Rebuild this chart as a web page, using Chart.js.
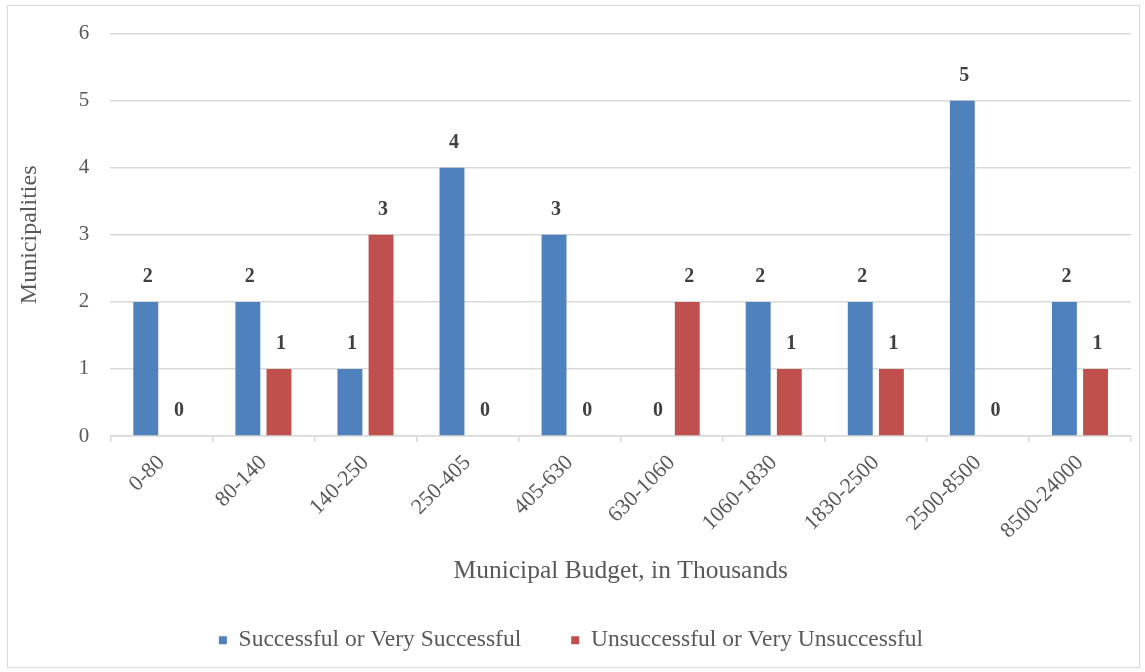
<!DOCTYPE html>
<html>
<head>
<meta charset="utf-8">
<script src="https://cdn.jsdelivr.net/npm/chart.js@4.4.1/dist/chart.umd.min.js"></script>
<style>
  html, body { margin: 0; padding: 0; background: #fff; }
  #frame { position: absolute; left: 7px; top: 5px; width: 1131px; height: 661px; border: 1px solid #d9d9d9; }
  #wrap { position: absolute; left: 0; top: 0; width: 1145px; height: 672px; }
</style>
</head>
<body>
<div id="frame"></div>
<div id="wrap"><canvas id="myChart" width="1145" height="672"></canvas></div>
<script>
const budgetRanges = ['0-80', '80-140', '140-250', '250-405', '405-630', '630-1060', '1060-1830', '1830-2500', '2500-8500', '8500-24000'];
const successful = [2, 2, 1, 4, 3, 0, 2, 2, 5, 2];
const unsuccessful = [0, 1, 3, 0, 0, 2, 1, 1, 0, 1];
const yTicks = [0, 1, 2, 3, 4, 5, 6];

const serif = '"Liberation Serif", "DejaVu Serif", serif';

// value labels sitting above each bar
const barLabels = {
  id: 'barLabels',
  afterDatasetsDraw(chart) {
    const ctx = chart.ctx;
    ctx.save();
    ctx.font = 'bold 20px ' + serif;
    ctx.fillStyle = '#404040';
    ctx.textAlign = 'center';
    ctx.textBaseline = 'middle';
    chart.data.datasets.forEach((ds, i) => {
      chart.getDatasetMeta(i).data.forEach((bar, j) => {
        ctx.fillText(ds.data[j], bar.x + 2, bar.y - 25);
      });
    });
    ctx.restore();
  }
};

const ctx = document.getElementById('myChart');
new Chart(ctx, {
  type: 'bar',
  data: {
    labels: budgetRanges,
    datasets: [{
      label: 'Successful or Very Successful',
      data: successful,
      backgroundColor: '#4F81BD',
      categoryPercentage: 0.61,
      barPercentage: 0.8
    }, {
      label: 'Unsuccessful or Very Unsuccessful',
      data: unsuccessful,
      backgroundColor: '#C0504D',
      categoryPercentage: 0.61,
      barPercentage: 0.8
    }]
  },
  options: {
    responsive: false,
    animation: false,
    layout: { padding: { top: 24, right: 14, left: 11, bottom: 10 } },
    plugins: {
      tooltip: { enabled: false },
      legend: {
        position: 'bottom',
        labels: {
          usePointStyle: true,
          pointStyle: 'rect',
          boxWidth: 8,
          boxHeight: 8,
          padding: 50,
          color: '#595959',
          font: { family: serif, size: 23.5 }
        }
      }
    },
    scales: {
      x: {
        grid: { display: true, drawOnChartArea: false, drawTicks: true, tickLength: 6, color: '#d9d9d9', lineWidth: 1.5 },
        border: { color: '#d9d9d9', width: 1.5 },
        ticks: {
          color: '#595959',
          font: { family: serif, size: 22 },
          minRotation: 45,
          maxRotation: 45,
          padding: 8
        },
        title: {
          display: true,
          text: 'Municipal Budget, in Thousands',
          color: '#595959',
          font: { family: serif, size: 25.5 },
          padding: { top: 4, bottom: -8 }
        }
      },
      y: {
        min: 0,
        max: 6,
        afterBuildTicks(axis) { axis.ticks = yTicks.map(v => ({ value: v })); },
        grid: { color: '#d9d9d9', lineWidth: 1.5, drawTicks: false },
        border: { display: false },
        ticks: {
          color: '#595959',
          font: { family: serif, size: 21 },
          padding: 21
        },
        title: {
          display: true,
          text: 'Municipalities',
          color: '#595959',
          font: { family: serif, size: 24 },
          padding: { bottom: 14 }
        }
      }
    }
  },
  plugins: [barLabels]
});
</script>
</body>
</html>
